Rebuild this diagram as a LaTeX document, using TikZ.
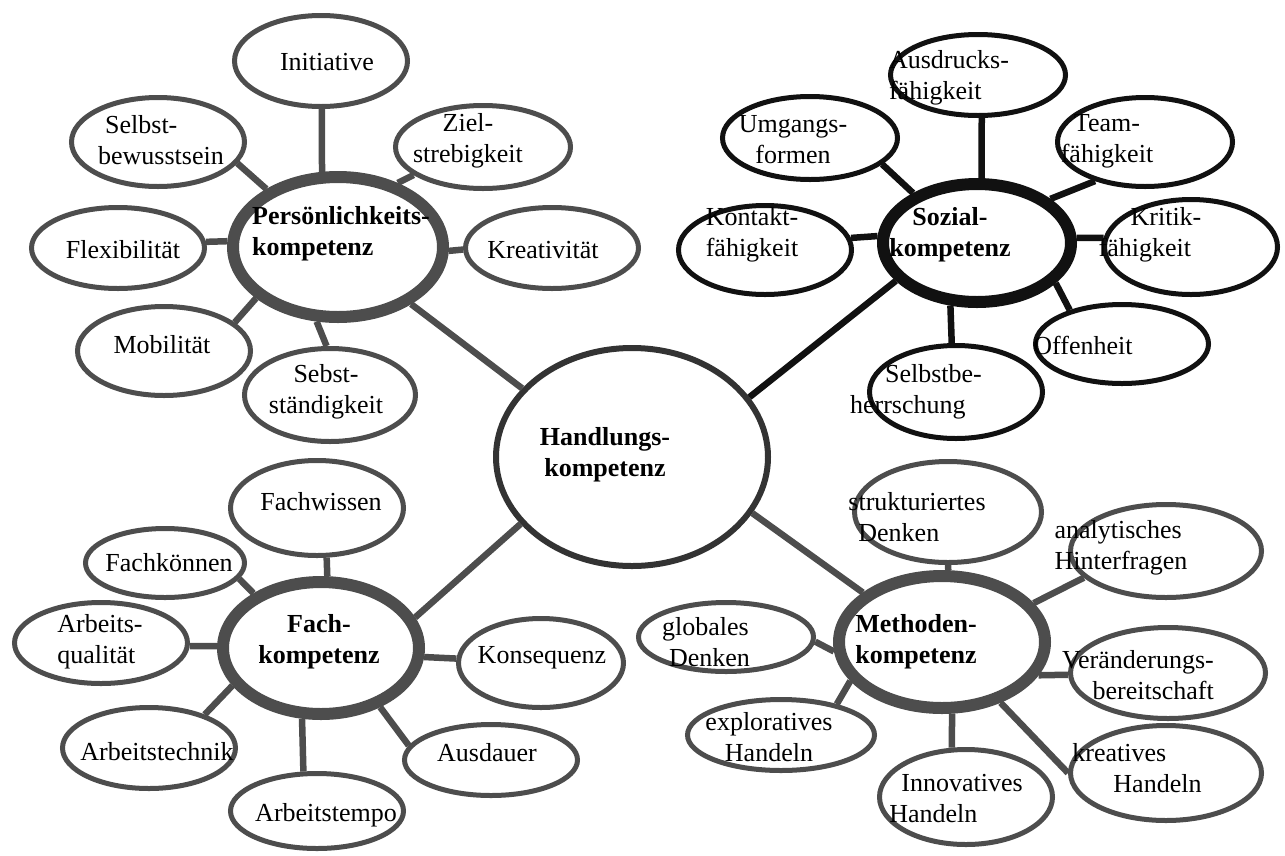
\documentclass[tikz,border=0pt]{standalone}
\usepackage{fontspec}
\setmainfont{Liberation Serif}
\usetikzlibrary{shapes.geometric}
\definecolor{fgray}{RGB}{77,77,77}
\definecolor{hgray}{RGB}{51,51,51}
\definecolor{sblack}{RGB}{17,17,17}

\begin{document}
\begin{tikzpicture}[
  x=1pt, y=-1pt, font=\fontsize{26}{31}\selectfont,
  wh/.style 2 args={minimum width=#1pt, minimum height=#2pt},
  bubble/.style={ellipse, draw=#1, line width=5pt, inner sep=0pt},
  bubble/.default=fgray,
  hub/.style={ellipse, draw=#1, line width=12pt, inner sep=0pt},
  hub/.default=fgray,
  link/.style={draw=#1, line width=6.5pt},
  link/.default=fgray,
  txt/.style={inner sep=0pt, align=center},
  hubtxt/.style={inner sep=0pt, align=center, font=\fontsize{26}{31}\selectfont\bfseries},
]
  \useasboundingbox (0,0) rectangle (1285,855);
  % centre
  \node[ellipse, draw=hgray, line width=6pt, inner sep=0pt, wh={272}{218}] (hand) at (632,457) {};
  % Persoenlichkeitskompetenz (top left)
  \node[hub, wh={210}{140}]         (pers)      at (338,247) {};
  \node[bubble, wh={173}{91}]       (init)      at (321,61)  {};
  \node[bubble, wh={173}{89}]       (selbstbew) at (158,142) {};
  \node[bubble, wh={175}{83}]       (ziel)      at (483,147) {};
  \node[bubble, wh={173}{81}]       (flex)      at (118,248) {};
  \node[bubble, wh={173}{81}]       (kreat)     at (552,248) {};
  \node[bubble, wh={173}{89}]       (mobil)     at (164,351) {};
  \node[bubble, wh={171}{93}]       (selbstst)  at (330,395) {};
  % Sozialkompetenz (top right)
  \node[hub=sblack, wh={188}{118}]    (sozial)   at (977,243)  {};
  \node[bubble=sblack, wh={175}{81}]  (ausdruck) at (978,75)   {};
  \node[bubble=sblack, wh={175}{83}]  (umgang)   at (810,138)  {};
  \node[bubble=sblack, wh={175}{89}]  (team)     at (1145,142) {};
  \node[bubble=sblack, wh={173}{89}]  (kontakt)  at (765,250)  {};
  \node[bubble=sblack, wh={173}{95}]  (kritik)   at (1191,247) {};
  \node[bubble=sblack, wh={173}{79}]  (offen)    at (1122,344) {};
  \node[bubble=sblack, wh={173}{93}]  (beherr)   at (956,392)  {};
  % Fachkompetenz (bottom left)
  \node[hub, wh={196}{132}]         (fach)     at (321,648) {};
  \node[bubble, wh={173}{95}]       (wissen)   at (317,508) {};
  \node[bubble, wh={159}{69}]       (koennen)  at (165,563) {};
  \node[bubble, wh={173}{81}]       (quali)    at (101,643) {};
  \node[bubble, wh={173}{81}]       (technik)  at (149,748) {};
  \node[bubble, wh={173}{75}]       (tempo)    at (317,811) {};
  \node[bubble, wh={165}{89}]       (konseq)   at (541,663) {};
  \node[bubble, wh={173}{71}]       (ausdauer) at (491,760) {};
  % Methodenkompetenz (bottom right)
  \node[hub, wh={206}{132}]         (methoden) at (942,642)  {};
  \node[bubble, wh={187}{101}]      (struktur) at (948,512)  {};
  \node[bubble, wh={191}{93}]       (analyt)   at (1166,551) {};
  \node[bubble, wh={175}{69}]       (global)   at (726,637)  {};
  \node[bubble, wh={195}{91}]       (veraend)  at (1168,673) {};
  \node[bubble, wh={187}{71}]       (explor)   at (781,735)  {};
  \node[bubble, wh={173}{95}]       (innov)    at (966,797)  {};
  \node[bubble, wh={191}{95}]       (kreativh) at (1166,773) {};
  % links to the centre
  \foreach \a/\b in {pers.322/hand.148, fach.18/hand.211, methoden.148/hand.335}
    \draw[link] (\a) -- (\b);
  \draw[link=sblack] (sozial.205) -- (hand.27);
  % spokes
  \foreach \a/\b in {pers.102/init.271, pers.141/selbstbew.345, pers.47/ziel.202,
    pers.177/flex.4, pers.358/kreat.181, pers.212/mobil.22, pers.254/selbstst.94,
    fach.85/wissen.281, fach.141/koennen.348, fach.179/quali.358, fach.203/technik.31,
    fach.255/tempo.109, fach.315/ausdauer.170, fach.355/konseq.177,
    methoden.85/struktur.270, methoden.23/analyt.198, methoden.341/veraend.181,
    methoden.314/kreativh.180, methoden.278/innov.106, methoden.203/explor.29,
    methoden.185/global.357}
    \draw[link] (\a) -- (\b);
  \foreach \a/\b in {sozial.86/ausdruck.275, sozial.142/umgang.340, sozial.31/team.218,
    sozial.176/kontakt.8, sozial.3/kritik.174, sozial.333/offen.147, sozial.247/beherr.95}
    \draw[link=sblack] (\a) -- (\b);
  % texts
  \node[hubtxt] (hand-t) at (605,455) {Handlungs-\\kompetenz};
  \node[hubtxt, align=left] (pers-t) at (341,234) {Persönlichkeits-\\kompetenz};
  \node[txt] (init-t)      at (327,62)  {Initiative};
  \node[txt, align=left] (selbstbew-t) at (161,140) {\hspace*{7pt}Selbst-\\bewusstsein};
  \node[txt] (ziel-t)      at (468,141) {Ziel-\\strebigkeit};
  \node[txt] (flex-t)      at (123,250) {Flexibilität};
  \node[txt] (kreat-t)     at (543,250) {Kreativität};
  \node[txt] (mobil-t)     at (162,345) {Mobilität};
  \node[txt] (selbstst-t)  at (326,392) {Sebst-\\ständigkeit};
  \node[hubtxt] (sozial-t) at (950,235) {Sozial-\\kompetenz};
  \node[txt, align=left]  (ausdruck-t) at (949,78)   {Ausdrucks-\\fähigkeit};
  \node[txt] (umgang-t)   at (793,140)  {Umgangs-\\formen};
  \node[txt] (team-t)     at (1107,141) {Team-\\fähigkeit};
  \node[txt] (kontakt-t)  at (752,235)  {Kontakt-\\fähigkeit};
  \node[txt, align=left]  (kritik-t)   at (1150,235) {\hspace*{32pt}Kritik-\\fähigkeit};
  \node[txt] (offen-t)    at (1083,345) {Offenheit};
  \node[txt, align=left]  (beherr-t)   at (916,392)  {\hspace*{35pt}Selbstbe-\\herrschung};
  \node[hubtxt] (fach-t)  at (319,642)  {Fach-\\kompetenz};
  \node[txt] (wissen-t)   at (321,502)  {Fachwissen};
  \node[txt] (koennen-t)  at (169,563)  {Fachkönnen};
  \node[txt, align=left]  (quali-t)    at (100,642) {Arbeits-\\qualität};
  \node[txt] (technik-t)  at (157,752)  {Arbeitstechnik};
  \node[txt] (tempo-t)    at (326,815)  {Arbeitstempo};
  \node[txt] (konseq-t)   at (542,658)  {Konsequenz};
  \node[txt] (ausdauer-t) at (487,753)  {Ausdauer};
  \node[hubtxt] (methoden-t) at (916,642) {Methoden-\\kompetenz};
  \node[txt, align=left]  (struktur-t) at (917,517)  {strukturiertes\\\hspace*{10pt}Denken};
  \node[txt, align=left]  (analyt-t)   at (1121,548) {analytisches\\Hinterfragen};
  \node[txt, align=left]  (global-t)   at (706,642)  {globales\\\hspace*{7pt}Denken};
  \node[txt, align=right] (veraend-t)  at (1138,675) {Veränderungs-\\bereitschaft};
  \node[txt] (explor-t)   at (769,737)  {exploratives\\Handeln};
  \node[txt, align=left]  (innov-t)    at (956,799)  {\hspace*{12pt}Innovatives\\Handeln};
  \node[txt, align=left]  (kreativh-t) at (1137,768) {kreatives\\\hspace*{41pt}Handeln};
\end{tikzpicture}
\end{document}
